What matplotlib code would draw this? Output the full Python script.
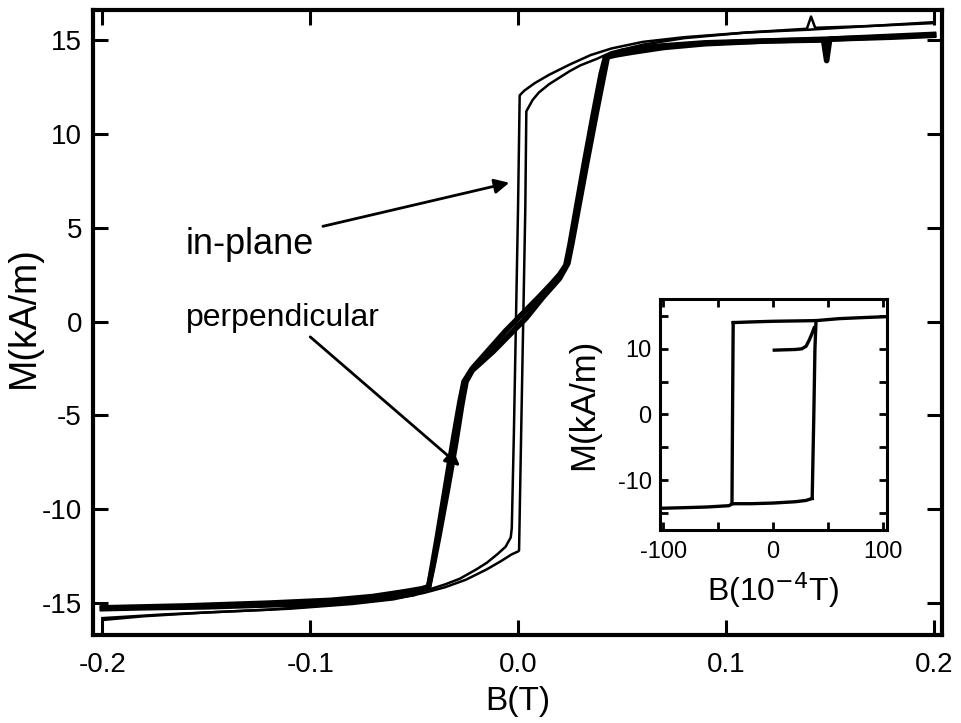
import matplotlib
matplotlib.use("Agg")
import matplotlib.pyplot as plt
from matplotlib.ticker import MultipleLocator

plt.rcParams['font.family'] = ['Liberation Sans', 'DejaVu Sans']
plt.rcParams['axes.unicode_minus'] = False

# in-plane loop, descending branch (B in T, M in kA/m)
ip_down_B = [0.200, 0.170, 0.143, 0.141, 0.139, 0.110, 0.080, 0.060, 0.045, 0.035, 0.025, 0.015,
             0.008, 0.003, 0.0008, 0.0000, -0.0010, -0.0020, -0.0030, -0.0035, -0.0060,
             -0.0100, -0.0150, -0.0200, -0.0280, -0.0350, -0.0420, -0.0550, -0.0700,
             -0.0900, -0.1200, -0.1500, -0.1800, -0.2000]
ip_down_M = [15.95, 15.75, 15.65, 16.25, 15.60, 15.40, 15.15, 14.90, 14.55, 14.20, 13.70, 13.15,
             12.70, 12.30, 12.05, 6.0, 0.0, -6.0, -11.0, -11.5, -12.0,
             -12.40, -12.85, -13.20, -13.70, -14.00, -14.25, -14.55, -14.85,
             -15.10, -15.35, -15.50, -15.70, -15.90]

# in-plane loop, ascending branch
ip_up_B = [-0.200, -0.170, -0.140, -0.110, -0.080, -0.060, -0.045, -0.035, -0.025, -0.015,
           -0.008, -0.003, 0.0000, 0.0005, 0.0015, 0.0025, 0.0035, 0.0040, 0.0070, 0.0100,
           0.0150, 0.0200, 0.0250, 0.0300, 0.0380, 0.0450, 0.0600, 0.0800, 0.1100, 0.1400,
           0.1700, 0.2000]
ip_up_M = [-15.80, -15.60, -15.45, -15.30, -15.05, -14.80, -14.45, -14.15, -13.75, -13.20,
           -12.75, -12.40, -12.25, -12.20, -6.0, 0.0, 6.0, 11.2, 11.8, 12.2,
           12.65, 13.0, 13.35, 13.65, 14.00, 14.35, 14.75, 15.10, 15.40, 15.55,
           15.75, 15.90]

# perpendicular loop, descending branch
pp_down_B = [0.200, 0.170, 0.150, 0.1485, 0.147, 0.120, 0.090, 0.070, 0.055, 0.047, 0.043,
             0.038, 0.033, 0.029, 0.026, 0.024, 0.020, 0.012, 0.004, -0.004, -0.012, -0.018,
             -0.022, -0.025, -0.027, -0.030, -0.034, -0.038, -0.041, -0.043, -0.050, -0.065,
             -0.090, -0.120, -0.150, -0.180, -0.200]
pp_down_M = [15.30, 15.15, 15.05, 13.90, 15.00, 14.95, 14.80, 14.60, 14.35, 14.20, 14.10,
             11.3, 8.4, 6.0, 4.2, 3.1, 2.3, 1.3, 0.2, -0.7, -1.6, -2.2,
             -2.6, -3.2, -4.4, -6.5, -9.0, -11.4, -13.1, -14.1, -14.5, -14.75,
             -15.0, -15.1, -15.2, -15.25, -15.3]

# perpendicular loop, ascending branch
pp_up_B = [-0.200, -0.160, -0.120, -0.090, -0.070, -0.055, -0.047, -0.043, -0.039, -0.035,
           -0.031, -0.028, -0.026, -0.022, -0.014, -0.006, 0.002, 0.010, 0.016, 0.020, 0.023,
           0.025, 0.028, 0.032, 0.036, 0.040, 0.042, 0.050, 0.065, 0.090, 0.120, 0.150,
           0.180, 0.200]
pp_up_M = [-15.25, -15.15, -15.0, -14.85, -14.65, -14.40, -14.25, -14.15, -11.6, -8.9,
           -6.2, -4.3, -3.2, -2.5, -1.5, -0.5, 0.4, 1.3, 2.0, 2.5, 3.0,
           4.1, 6.0, 8.5, 10.9, 13.2, 14.05, 14.4, 14.65, 14.85, 14.95, 15.05,
           15.15, 15.25]

# inset loop (B in 1e-4 T)
in_upper_B = [-36.4, -20, 0, 20, 39, 60, 80, 103]
in_upper_M = [14.0, 14.1, 14.2, 14.25, 14.3, 14.6, 14.75, 14.9]
in_left_B = [-36.4, -37.0, -37.5]
in_left_M = [14.0, 0.0, -13.6]
in_lower_B = [-103, -80, -60, -40, -37.5, -20, 0, 20, 30, 35.5]
in_lower_M = [-14.3, -14.2, -14.1, -13.9, -13.6, -13.6, -13.5, -13.3, -13.1, -12.8]
in_right_B = [35.5, 37.0, 38.0, 39.0]
in_right_M = [-12.8, 0.0, 10.0, 14.3]
in_virgin_B = [1, 10, 20, 26, 30, 33, 35.5, 37.3]
in_virgin_M = [9.8, 9.85, 9.9, 10.0, 10.4, 11.4, 12.4, 13.2]

fig = plt.figure(figsize=(9.61, 7.23), dpi=100)
ax = fig.add_axes([0.0968, 0.1217, 0.8834, 0.8645])

ax.plot(ip_down_B, ip_down_M, color='black', lw=1.8)
ax.plot(ip_up_B, ip_up_M, color='black', lw=1.8)
ax.plot(pp_down_B, pp_down_M, color='black', lw=4)
ax.plot(pp_up_B, pp_up_M, color='black', lw=4)

ax.set_xlim(-0.2045, 0.204)
ax.set_ylim(-16.7, 16.6)
ax.yaxis.set_major_locator(MultipleLocator(5))
ax.set_xticks([-0.2, -0.1, 0.0, 0.1, 0.2])
ax.set_xticklabels(['-0.2', '-0.1', '0.0', '0.1', '0.2'])
ax.tick_params(direction='in', top=True, right=True, length=11, width=2.2,
               labelsize=20)
ax.tick_params(axis='x', pad=12)
ax.tick_params(axis='y', pad=8)
for s in ax.spines.values():
    s.set_linewidth(3)
ax.set_xlabel('B(T)', fontsize=24, labelpad=6)
ax.set_ylabel('M(kA/m)', fontsize=27)
ax.yaxis.set_label_coords(-0.060, 0.509)

ax.text(-0.160, 4.08, 'in-plane', fontsize=26, va='center', ha='left')
ax.text(-0.160, 0.19, 'perpendicular', fontsize=23, va='center', ha='left')
ax.annotate('', xy=(-0.0029, 7.43), xytext=(-0.0952, 5.04),
            arrowprops=dict(arrowstyle='-|>', color='black', lw=2, mutation_scale=22))
ax.annotate('', xy=(-0.0269, -7.8), xytext=(-0.101, -0.72),
            arrowprops=dict(arrowstyle='-|>', color='black', lw=2, mutation_scale=22))

# inset
ins = fig.add_axes([0.6868, 0.2670, 0.2362, 0.3195])
for bx, my in [(in_upper_B, in_upper_M), (in_left_B, in_left_M), (in_lower_B, in_lower_M),
               (in_right_B, in_right_M), (in_virgin_B, in_virgin_M)]:
    ins.plot(bx, my, color='black', lw=2.4)
ins.set_xlim(-103, 103.6)
ins.set_ylim(-17.6, 17.6)
ins.set_xticks([-100, 0, 100])
ins.set_yticks([-10, 0, 10])
ins.xaxis.set_minor_locator(MultipleLocator(50))
ins.yaxis.set_minor_locator(MultipleLocator(5))
ins.tick_params(which='both', direction='in', top=True, right=True, length=6, width=2,
                labelsize=17)
ins.tick_params(axis='x', pad=8)
ins.tick_params(axis='y', pad=6)
for s in ins.spines.values():
    s.set_linewidth(2.2)
ins.set_xlabel('B(10$^{-4}$T)', fontsize=23, labelpad=5)
ins.set_ylabel('M(kA/m)', fontsize=25)
ins.yaxis.set_label_coords(-0.264, 0.545)

fig.savefig('out.png', dpi=100)
